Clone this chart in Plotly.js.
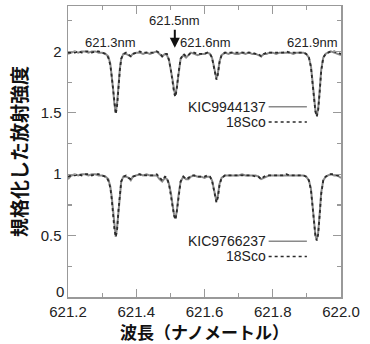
<!DOCTYPE html>
<html>
<head>
<meta charset="utf-8">
<script src="https://cdn.plot.ly/plotly-3.0.1.min.js"></script>
<style>html,body{margin:0;padding:0;background:#fff;}#chart{width:370px;height:344px;}</style>
</head>
<body>
<div id="chart"></div>
<script>
const wavelength = [
 621.200,621.210,621.220,621.230,621.240,621.250,621.260,621.270,621.280,621.290,
 621.300,621.310,621.318,621.324,621.328,621.332,621.336,621.340,621.344,621.348,
 621.352,621.356,621.362,621.370,621.378,621.384,621.390,621.400,621.410,621.420,
 621.430,621.440,621.450,621.460,621.468,621.476,621.484,621.490,621.496,621.502,
 621.507,621.511,621.515,621.519,621.524,621.530,621.538,621.546,621.553,621.560,
 621.570,621.580,621.590,621.600,621.608,621.616,621.622,621.627,621.631,621.635,
 621.639,621.644,621.650,621.660,621.670,621.680,621.690,621.700,621.710,621.720,
 621.730,621.740,621.750,621.758,621.766,621.774,621.782,621.790,621.800,621.810,
 621.820,621.830,621.840,621.850,621.860,621.870,621.880,621.890,621.898,621.906,
 621.912,621.917,621.921,621.925,621.929,621.933,621.937,621.942,621.948,621.955,
 621.962,621.970,621.980,621.990,622.000];

// upper pair (offset by +1)
const kic9944137 = [
 1.98,1.99,2.00,1.99,2.00,2.00,1.99,2.00,2.00,1.99,
 1.99,1.98,1.96,1.90,1.82,1.70,1.57,1.50,1.58,1.73,
 1.86,1.94,1.98,1.98,1.97,1.96,1.98,1.99,1.99,1.98,
 1.99,1.98,1.99,2.00,1.98,1.96,1.98,1.97,1.93,1.85,
 1.76,1.68,1.65,1.71,1.84,1.94,1.97,1.95,1.97,1.99,
 1.98,1.97,1.98,1.98,1.99,1.98,1.95,1.88,1.81,1.78,
 1.82,1.92,1.97,1.99,1.98,1.99,1.98,1.98,1.99,1.98,
 1.99,1.98,1.98,1.97,1.96,1.98,1.98,1.99,1.99,1.98,
 1.99,1.99,1.99,1.99,1.98,1.99,1.99,1.99,1.98,1.95,
 1.88,1.75,1.62,1.52,1.48,1.53,1.66,1.85,1.95,1.98,
 1.99,2.00,1.99,1.98,1.97];
const sco18Upper = [
 1.99,1.99,1.99,2.00,1.99,2.00,2.00,1.99,2.00,2.00,
 1.99,1.98,1.95,1.89,1.80,1.68,1.55,1.49,1.56,1.72,
 1.85,1.94,1.98,1.99,1.97,1.96,1.98,1.99,2.00,1.99,
 1.99,1.99,1.99,2.00,1.99,1.96,1.98,1.98,1.93,1.84,
 1.74,1.66,1.63,1.70,1.83,1.94,1.98,1.96,1.97,1.99,
 1.99,1.98,1.98,1.98,1.99,1.98,1.95,1.87,1.80,1.77,
 1.81,1.91,1.97,1.99,1.99,1.99,1.99,1.99,1.99,1.99,
 1.99,1.99,1.98,1.98,1.96,1.98,1.99,1.99,1.99,1.99,
 1.99,1.99,2.00,1.99,1.99,1.99,1.99,1.99,1.98,1.95,
 1.87,1.73,1.60,1.51,1.47,1.52,1.65,1.84,1.95,1.98,
 1.99,2.00,2.00,1.99,1.98];
// lower pair
const kic9766237 = [
 0.96,0.99,1.00,0.99,1.00,1.00,0.99,1.00,1.00,0.99,
 0.99,0.98,0.96,0.90,0.82,0.69,0.56,0.49,0.57,0.72,
 0.86,0.94,0.98,0.98,0.97,0.95,0.98,0.99,1.00,0.99,
 1.00,0.99,0.99,0.99,0.96,0.94,0.97,0.96,0.92,0.84,
 0.74,0.67,0.64,0.70,0.83,0.94,0.98,0.96,0.96,0.98,
 0.99,0.98,0.98,0.97,0.98,0.98,0.95,0.88,0.81,0.78,
 0.82,0.92,0.97,0.99,0.99,0.99,0.99,0.99,1.00,0.99,
 0.99,0.99,0.99,0.98,0.96,0.97,0.98,0.99,0.99,0.99,
 0.99,0.99,0.99,0.99,0.99,0.99,0.99,0.99,0.98,0.95,
 0.88,0.74,0.60,0.50,0.47,0.52,0.66,0.85,0.95,0.98,
 0.99,1.00,0.99,0.99,0.97];
const sco18Lower = [
 0.98,0.99,0.99,1.00,0.99,1.00,1.00,0.99,1.00,1.00,
 0.99,0.98,0.95,0.89,0.80,0.67,0.55,0.49,0.55,0.71,
 0.85,0.94,0.98,0.99,0.97,0.96,0.98,0.99,1.00,0.99,
 0.99,0.99,0.99,1.00,0.97,0.95,0.98,0.97,0.92,0.83,
 0.73,0.66,0.63,0.70,0.83,0.94,0.98,0.96,0.97,0.99,
 0.99,0.98,0.98,0.98,0.99,0.98,0.95,0.87,0.80,0.77,
 0.81,0.91,0.97,0.99,0.99,0.99,0.99,0.99,0.99,0.99,
 0.99,0.99,0.98,0.98,0.96,0.98,0.99,0.99,0.99,0.99,
 0.99,0.99,1.00,0.99,0.99,0.99,0.99,0.99,0.98,0.95,
 0.87,0.73,0.60,0.50,0.46,0.51,0.65,0.84,0.95,0.98,
 0.99,1.00,1.00,0.99,0.98];

const lineLabels = ['621.3nm','621.5nm','621.6nm','621.9nm'];
const lineLabelX = [621.325, 621.513, 621.603, 621.917];
const seriesNames = ['KIC9944137','18Sco','KIC9766237','18Sco'];
const xTickVals = [621.2,621.4,621.6,621.8,622.0];
const yTickVals = [0,0.5,1,1.5,2];
const yTickText = ['','0.5','1','1.5','2'];
const yZeroLabel = '0';

const solid = {color:'#8a8a8a', width:2};
const dotted = {color:'#2a2a2a', width:1.8, dash:'dot'};

const traces = [
  {x:wavelength, y:kic9944137, mode:'lines', line:solid, name:seriesNames[0]},
  {x:wavelength, y:sco18Upper, mode:'lines', line:dotted, name:seriesNames[1]},
  {x:wavelength, y:kic9766237, mode:'lines', line:solid, name:seriesNames[2]},
  {x:wavelength, y:sco18Lower, mode:'lines', line:dotted, name:seriesNames[3]}
];

const tickFont = {family:'Liberation Sans, Arial, sans-serif', size:15, color:'#222'};
const txtFont = {family:'Liberation Sans, Arial, sans-serif', size:13, color:'#222'};
const legFont = {family:'Liberation Sans, Arial, sans-serif', size:14, color:'#222'};

const annotations = [
  {x:lineLabelX[0], y:2.075, text:lineLabels[0], showarrow:false, font:txtFont, xanchor:'center', yanchor:'middle'},
  {x:lineLabelX[1], y:2.03, text:lineLabels[1], showarrow:true, ax:0, ay:-27, arrowhead:2, arrowsize:1, arrowwidth:2, arrowcolor:'#111', font:txtFont},
  {x:lineLabelX[2], y:2.075, text:lineLabels[2], showarrow:false, font:txtFont, xanchor:'center', yanchor:'middle'},
  {x:lineLabelX[3], y:2.075, text:lineLabels[3], showarrow:false, font:txtFont, xanchor:'center', yanchor:'middle'},
  {x:621.785, y:1.55, text:seriesNames[0], showarrow:false, font:legFont, xanchor:'right', yanchor:'middle'},
  {x:621.785, y:1.425, text:seriesNames[1], showarrow:false, font:legFont, xanchor:'right', yanchor:'middle'},
  {x:621.785, y:0.455, text:seriesNames[2], showarrow:false, font:legFont, xanchor:'right', yanchor:'middle'},
  {x:621.785, y:0.33, text:seriesNames[3], showarrow:false, font:legFont, xanchor:'right', yanchor:'middle'},
  {xref:'paper', x:0, yref:'y', y:0, text:yZeroLabel, showarrow:false, font:tickFont, xanchor:'right', yanchor:'bottom', xshift:-2, yshift:-5}
];

const shapes = [
  {type:'line', x0:621.788, x1:621.900, y0:1.55, y1:1.55, line:{color:'#8a8a8a', width:1.5}},
  {type:'line', x0:621.788, x1:621.900, y0:1.425, y1:1.425, line:{color:'#2a2a2a', width:1.5, dash:'dot'}},
  {type:'line', x0:621.788, x1:621.900, y0:0.455, y1:0.455, line:{color:'#8a8a8a', width:1.5}},
  {type:'line', x0:621.788, x1:621.900, y0:0.33, y1:0.33, line:{color:'#2a2a2a', width:1.5, dash:'dot'}}
];

const axisCommon = {
  showline:true, linecolor:'#999', linewidth:1.5, mirror:'ticks',
  ticks:'inside', ticklen:8, tickwidth:1.2, tickcolor:'#999',
  showgrid:false, zeroline:false,
  tickfont:tickFont
};

const layout = {
  width:370, height:344,
  margin:{l:68, r:29, t:6, b:47},
  paper_bgcolor:'#fff', plot_bgcolor:'#fff',
  showlegend:false,
  xaxis:Object.assign({}, axisCommon, {
    range:[621.2, 622.0], tickvals:xTickVals, tickformat:'.1f',
    minor:{dtick:0.1, tick0:621.2, ticks:'inside', ticklen:4, tickcolor:'#999', tickwidth:1.2, showgrid:false},
    title:{text:'波長（ナノメートル）', standoff:6, font:{family:'Noto Sans CJK JP, sans-serif', size:17, color:'#111', weight:'bold'}}
  }),
  yaxis:Object.assign({}, axisCommon, {
    range:[0, 2.37], tickvals:yTickVals, ticktext:yTickText, ticklabelstandoff:2,
    minor:{dtick:0.25, tick0:0, ticks:'inside', ticklen:4, tickcolor:'#999', tickwidth:1.2, showgrid:false},
    title:{text:'規格化した放射強度', standoff:8, font:{family:'Noto Sans CJK JP, sans-serif', size:19, color:'#111', weight:'bold'}}
  }),
  annotations:annotations,
  shapes:shapes
};

Plotly.newPlot('chart', traces, layout, {displayModeBar:false, staticPlot:true});
</script>
</body>
</html>
